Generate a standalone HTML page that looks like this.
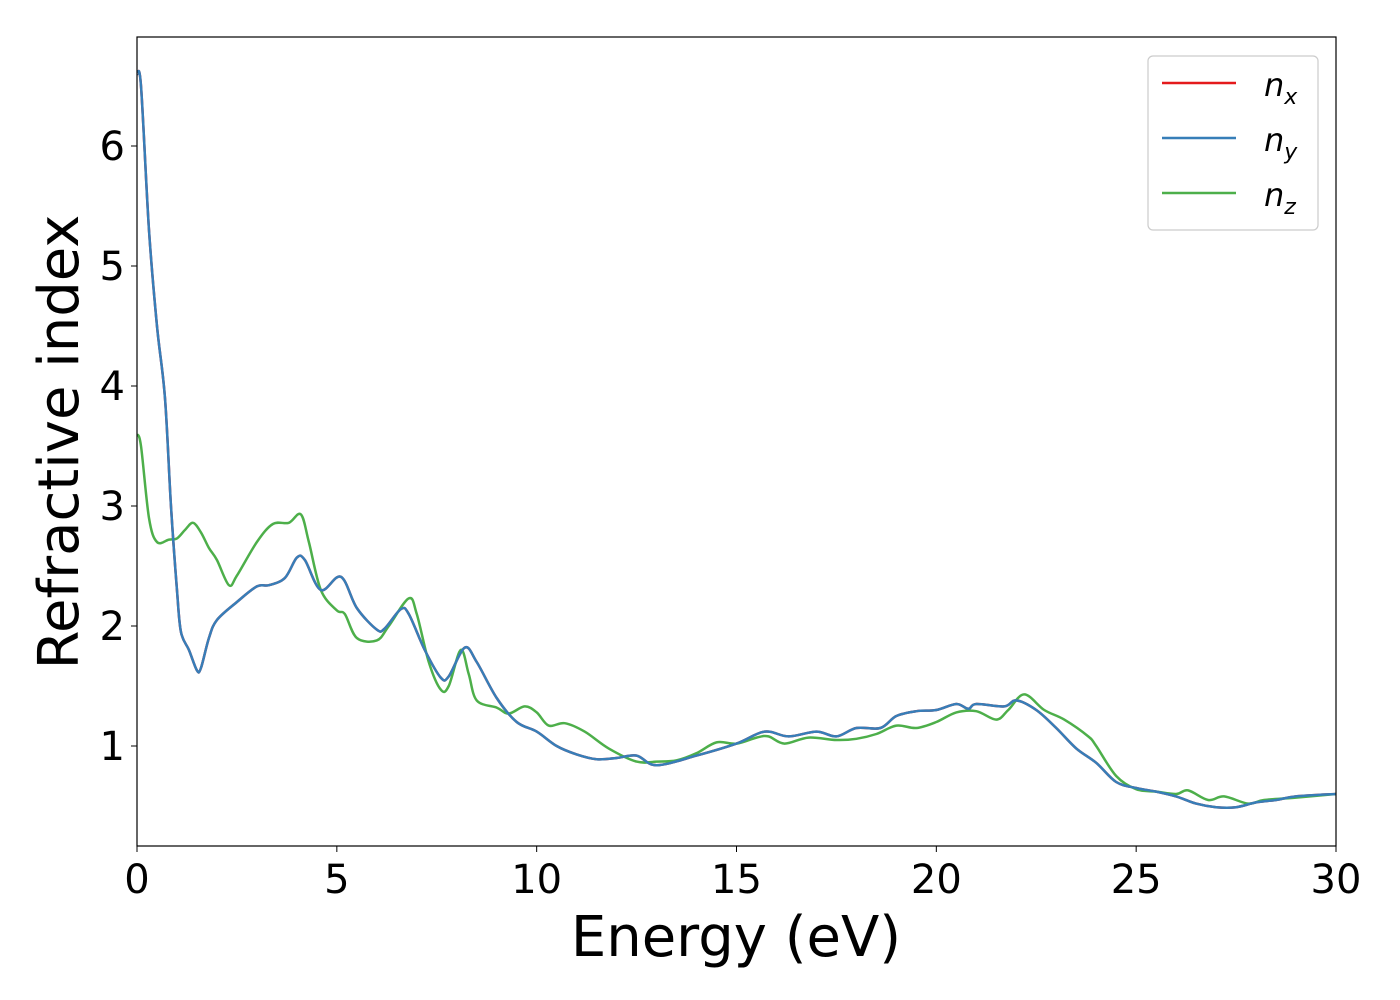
<!DOCTYPE html>
<html><head><meta charset="utf-8"><style>body{margin:0;background:#fff}svg{display:block}text{font-family:"DejaVu Sans","Liberation Sans",sans-serif}</style></head>
<body>
<svg id="chart" width="1400" height="1000">
<rect x="0" y="0" width="1400" height="1000" fill="#fff"/>
<g id="plot"></g>
<rect x="137" y="37" width="1199" height="809" fill="none" stroke="#000" stroke-width="1.2"/>
<g id="ticks"></g>
<text x="736" y="956" font-size="56" text-anchor="middle">Energy (eV)</text>
<text transform="translate(78,442) rotate(-90)" font-size="56" text-anchor="middle">Refractive index</text>
<g>
<rect x="1148" y="56" width="170" height="174" rx="5" fill="#fff" stroke="#ccc" stroke-width="1.2"/>
<line x1="1162" y1="83" x2="1236" y2="83" stroke="#e41a1c" stroke-width="2.5"/>
<text x="1264" y="96" font-size="32" font-style="italic">n<tspan font-size="22" dy="8">x</tspan></text>
<line x1="1162" y1="138" x2="1236" y2="138" stroke="#377eb8" stroke-width="2.5"/>
<text x="1264" y="151" font-size="32" font-style="italic">n<tspan font-size="22" dy="8">y</tspan></text>
<line x1="1162" y1="193" x2="1236" y2="193" stroke="#4daf4a" stroke-width="2.5"/>
<text x="1264" y="206" font-size="32" font-style="italic">n<tspan font-size="22" dy="8">z</tspan></text>
</g>
</svg>
<script>
const xTicks=[0,5,10,15,20,25,30];
const yTicks=[1,2,3,4,5,6];
const nxyE=[0,0.1,0.3,0.5,0.7,0.85,1.0,1.1,1.3,1.5,1.6,1.8,2.0,2.5,3.0,3.3,3.7,4.0,4.2,4.6,5.1,5.5,6.0,6.2,6.6,6.8,7.2,7.6,7.8,8.2,8.5,9.0,9.5,10,10.5,11,11.5,12,12.5,13,14,15,15.7,16.3,17,17.5,18,18.6,19,19.5,20,20.5,20.8,21,21.7,22,22.5,23,23.5,24,24.5,25,25.5,26,26.5,27,27.5,28,28.5,29,30];
const nxyV=[6.6,6.5,5.3,4.5,3.9,3.0,2.3,1.95,1.8,1.63,1.65,1.9,2.05,2.2,2.33,2.34,2.4,2.57,2.55,2.3,2.41,2.15,1.97,1.98,2.14,2.1,1.8,1.57,1.58,1.82,1.7,1.4,1.2,1.12,1.0,0.93,0.89,0.9,0.92,0.84,0.92,1.02,1.12,1.08,1.12,1.08,1.15,1.15,1.25,1.29,1.3,1.35,1.31,1.35,1.33,1.38,1.3,1.15,0.98,0.86,0.7,0.65,0.62,0.58,0.52,0.49,0.49,0.53,0.55,0.58,0.6];
const nzE=[0,0.1,0.3,0.5,0.8,1.0,1.2,1.4,1.6,1.8,2.0,2.3,2.5,3.0,3.4,3.8,4.1,4.3,4.6,5.0,5.2,5.5,6.0,6.3,6.8,7.0,7.3,7.6,7.8,8.1,8.3,8.5,9,9.3,9.7,10,10.3,10.7,11.2,11.8,12.5,13,13.5,14,14.5,15,15.5,15.8,16.2,16.8,17.5,18,18.5,19,19.5,20,20.5,21,21.5,21.8,22.2,22.7,23.2,23.8,24,24.5,25,25.5,26,26.3,26.8,27.2,27.8,28.2,29,30];
const nzV=[3.6,3.5,2.9,2.7,2.72,2.73,2.8,2.86,2.78,2.65,2.55,2.34,2.42,2.7,2.85,2.86,2.93,2.7,2.3,2.13,2.1,1.9,1.88,2.0,2.23,2.1,1.7,1.47,1.5,1.8,1.6,1.38,1.32,1.27,1.33,1.28,1.17,1.19,1.12,0.98,0.87,0.87,0.88,0.94,1.03,1.02,1.07,1.08,1.02,1.07,1.05,1.06,1.1,1.17,1.15,1.2,1.28,1.29,1.22,1.3,1.43,1.3,1.22,1.08,1.0,0.75,0.64,0.62,0.6,0.63,0.55,0.58,0.52,0.55,0.57,0.6];
const X=v=>137+v*(1199/30);
const Y=v=>866-v*120;
const NS="http://www.w3.org/2000/svg";
function pathD(xs,ys){
  const p=xs.map((e,i)=>[X(e),Y(ys[i])]);
  let d="M"+p[0][0]+","+p[0][1];
  for(let i=0;i<p.length-1;i++){
    const p0=p[Math.max(0,i-1)],p1=p[i],p2=p[i+1],p3=p[Math.min(p.length-1,i+2)];
    const c1=[p1[0]+(p2[0]-p0[0])/6,p1[1]+(p2[1]-p0[1])/6];
    const c2=[p2[0]-(p3[0]-p1[0])/6,p2[1]-(p3[1]-p1[1])/6];
    d+=" C"+c1+" "+c2+" "+p2;
  }
  return d;
}
const plot=document.getElementById('plot');
const cp=document.createElementNS(NS,'clipPath');cp.id='clip';
const cr=document.createElementNS(NS,'rect');
cr.setAttribute('x',137);cr.setAttribute('y',37);cr.setAttribute('width',1199);cr.setAttribute('height',809);
cp.appendChild(cr);plot.appendChild(cp);
plot.setAttribute('clip-path','url(#clip)');
[['line-nx',nxyE,nxyV,'#e41a1c'],['line-nz',nzE,nzV,'#4daf4a'],['line-ny',nxyE,nxyV,'#377eb8']].forEach(s=>{
  const el=document.createElementNS(NS,'path');
  el.setAttribute('d',pathD(s[1],s[2]));
  el.setAttribute('fill','none');el.setAttribute('stroke',s[3]);el.setAttribute('stroke-width','2.5');
  
  
  plot.appendChild(el);
});
const tg=document.getElementById('ticks');
xTicks.forEach(t=>{
  const l=document.createElementNS(NS,'line');
  l.setAttribute('x1',X(t));l.setAttribute('x2',X(t));l.setAttribute('y1',846);l.setAttribute('y2',852);l.setAttribute('stroke','#000');
  
  
  tg.appendChild(l);
  const tx=document.createElementNS(NS,'text');
  tx.setAttribute('x',X(t));tx.setAttribute('y',893);tx.setAttribute('font-size','40');tx.setAttribute('text-anchor','middle');
  tx.textContent=t;
  
  
  tg.appendChild(tx);
});
yTicks.forEach(t=>{
  const l=document.createElementNS(NS,'line');
  l.setAttribute('x1',131);l.setAttribute('x2',137);l.setAttribute('y1',Y(t));l.setAttribute('y2',Y(t));l.setAttribute('stroke','#000');
  
  
  tg.appendChild(l);
  const tx=document.createElementNS(NS,'text');
  tx.setAttribute('x',125);tx.setAttribute('y',Y(t)+14);tx.setAttribute('font-size','40');tx.setAttribute('text-anchor','end');
  tx.textContent=t;
  
  
  tg.appendChild(tx);
});
</script>
</body></html>
